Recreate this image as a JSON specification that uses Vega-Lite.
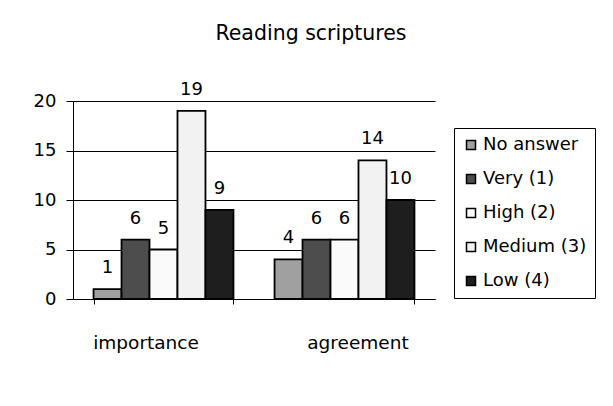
{
  "$schema": "https://vega.github.io/schema/vega-lite/v6.json",
  "width": 362,
  "height": 198,
  "autosize": {"type": "none"},
  "padding": {"left": 73, "top": 101, "right": 178, "bottom": 107},
  "background": "white",
  "title": {
    "text": "Reading scriptures",
    "anchor": "middle",
    "dx": 57,
    "offset": 20,
    "baseline": "alphabetic",
    "font": "DejaVu Sans",
    "fontSize": 20.5,
    "fontWeight": "normal",
    "color": "black"
  },
  "data": {
    "values": [
      {"question": "importance", "answer": "No answer", "count": 1},
      {"question": "importance", "answer": "Very (1)", "count": 6},
      {"question": "importance", "answer": "High (2)", "count": 5},
      {"question": "importance", "answer": "Medium (3)", "count": 19},
      {"question": "importance", "answer": "Low (4)", "count": 9},
      {"question": "agreement", "answer": "No answer", "count": 4},
      {"question": "agreement", "answer": "Very (1)", "count": 6},
      {"question": "agreement", "answer": "High (2)", "count": 6},
      {"question": "agreement", "answer": "Medium (3)", "count": 14},
      {"question": "agreement", "answer": "Low (4)", "count": 10}
    ]
  },
  "encoding": {
    "x": {
      "field": "question",
      "type": "nominal",
      "sort": ["importance", "agreement"],
      "scale": {"paddingInner": 0.227, "paddingOuter": 0.1135},
      "axis": {
        "title": null,
        "labelAngle": 0,
        "labelFont": "DejaVu Sans",
        "labelFontSize": 18.5,
        "labelColor": "black",
        "labelPadding": 29,
        "labelOffset": {"condition": {"test": "datum.value === 'importance'", "value": -18}, "value": 13},
        "domainColor": "black",
        "domainWidth": 1,
        "tickColor": "black",
        "tickSize": 5,
        "tickBand": "extent",
        "grid": false
      }
    },
    "xOffset": {
      "field": "answer",
      "type": "nominal",
      "sort": ["No answer", "Very (1)", "High (2)", "Medium (3)", "Low (4)"],
      "scale": {"paddingInner": 0, "paddingOuter": 0}
    },
    "y": {
      "field": "count",
      "type": "quantitative",
      "scale": {"domain": [0, 20], "nice": false},
      "axis": {
        "title": null,
        "values": [0, 5, 10, 15, 20],
        "labelFont": "DejaVu Sans",
        "labelFontSize": 18,
        "labelColor": "black",
        "labelPadding": 10,
        "domainColor": "black",
        "tickColor": "black",
        "tickSize": 7,
        "gridColor": "black",
        "gridWidth": 1
      }
    }
  },
  "layer": [
    {
      "mark": {"type": "bar", "stroke": "black", "strokeWidth": 1.8},
      "encoding": {
        "color": {
          "field": "answer",
          "type": "nominal",
          "sort": ["No answer", "Very (1)", "High (2)", "Medium (3)", "Low (4)"],
          "scale": {
            "domain": ["No answer", "Very (1)", "High (2)", "Medium (3)", "Low (4)"],
            "range": ["#a0a0a0", "#4d4d4d", "#fafafa", "#f2f2f2", "#1e1e1e"]
          },
          "legend": {
            "title": null,
            "orient": "none",
            "legendX": 381,
            "legendY": 27,
            "symbolType": "square",
            "symbolSize": 81,
            "symbolStrokeColor": "black",
            "symbolStrokeWidth": 1.5,
            "symbolOpacity": 1,
            "labelFont": "DejaVu Sans",
            "labelFontSize": 18,
            "labelColor": "black",
            "labelOffset": 3,
            "rowPadding": 16,
            "padding": 8,
            "strokeColor": "black",
            "fillColor": "white"
          }
        }
      }
    },
    {
      "mark": {"type": "text", "baseline": "alphabetic", "dy": -16, "font": "DejaVu Sans", "fontSize": 18, "color": "black"},
      "encoding": {"text": {"field": "count", "type": "quantitative"}}
    }
  ],
  "config": {
    "view": {"stroke": null},
    "axis": {"domainWidth": 1}
  }
}
